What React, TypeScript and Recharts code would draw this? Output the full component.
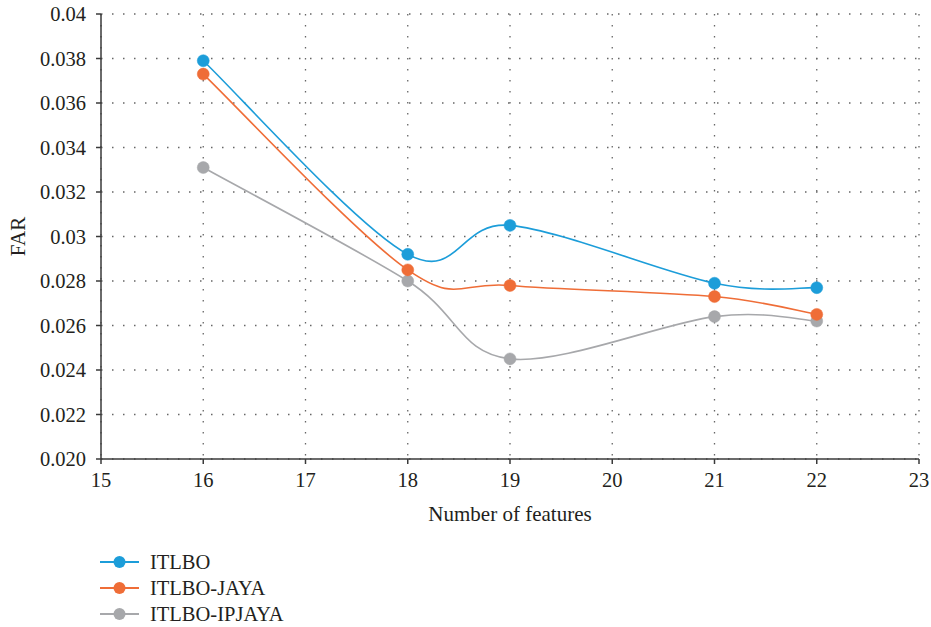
import React from 'react';
import { LineChart, Line, XAxis, YAxis, CartesianGrid } from 'recharts';

const features = [16, 18, 19, 21, 22];
const itlbo = [0.0379, 0.0292, 0.0305, 0.0279, 0.0277];
const itlboJaya = [0.0373, 0.0285, 0.0278, 0.0273, 0.0265];
const itlboIpjaya = [0.0331, 0.028, 0.0245, 0.0264, 0.0262];
const xTicks = [15, 16, 17, 18, 19, 20, 21, 22, 23];
const yTicks = [0.02, 0.022, 0.024, 0.026, 0.028, 0.03, 0.032, 0.034, 0.036, 0.038, 0.04];

const series = [
  { key: 'ITLBO', name: 'ITLBO', color: '#1c9dd9', values: itlbo },
  { key: 'ITLBO-JAYA', name: 'ITLBO-JAYA', color: '#ef6d37', values: itlboJaya },
  { key: 'ITLBO-IPJAYA', name: 'ITLBO-IPJAYA', color: '#a7a8ab', values: itlboIpjaya },
];

const data = features.map((f, i) => {
  const row: any = { x: f };
  series.forEach((s) => {
    row[s.key] = s.values[i];
  });
  return row;
});

function smoothCurve(context: any) {
  let pts: number[][] = [];
  return {
    areaStart() {},
    areaEnd() {},
    lineStart() {
      pts = [];
    },
    point(x: number, y: number) {
      pts.push([+x, +y]);
    },
    lineEnd() {
      const n = pts.length;
      if (!n) return;
      context.moveTo(pts[0][0], pts[0][1]);
      for (let i = 0; i < n - 1; i++) {
        const p0 = pts[i - 1] || pts[i];
        const p1 = pts[i];
        const p2 = pts[i + 1];
        const p3 = pts[i + 2] || p2;
        context.bezierCurveTo(
          p1[0] + (p2[0] - p0[0]) / 6,
          p1[1] + (p2[1] - p0[1]) / 6,
          p2[0] - (p3[0] - p1[0]) / 6,
          p2[1] - (p3[1] - p1[1]) / 6,
          p2[0],
          p2[1]
        );
      }
    },
  };
}

const FONT = "'Liberation Serif', 'Times New Roman', serif";
const TEXT = '#231f20';
const AXIS = '#3a3a3a';
const FS = 20.5;

const fmtY = (v: number) => (Math.abs(v - 0.02) < 1e-9 ? '0.020' : String(Number(v.toFixed(3))));

const css = `
html, body { margin: 0; padding: 0; }
.far-chart, .far-chart svg text, .far-chart text, .far-chart tspan { font-family: ${FONT} !important; }
`;

export default function App() {
  return (
    <div
      className="far-chart"
      style={{
        position: 'relative',
        width: 931,
        height: 627,
        overflow: 'hidden',
        fontFamily: FONT,
      }}
    >
      <style>{css}</style>
      <LineChart
        width={931}
        height={627}
        data={data}
        margin={{ top: 14, right: 12, left: 0, bottom: 98 }}
      >
        <CartesianGrid stroke="#666" strokeWidth={1.3} strokeDasharray="1.5 9.5" />
        <XAxis
          dataKey="x"
          type="number"
          domain={[15, 23]}
          ticks={xTicks}
          interval={0}
          height={70}
          stroke={AXIS}
          strokeWidth={1.5}
          tickSize={5}
          tickMargin={8}
          tick={{ fill: TEXT, fontSize: FS }}
          label={{
            value: 'Number of features',
            position: 'insideBottom',
            offset: 8,
            style: { fill: TEXT, fontSize: 21 },
          }}
        />
        <YAxis
          type="number"
          domain={[0.02, 0.04]}
          ticks={yTicks}
          interval={0}
          width={101}
          stroke={AXIS}
          strokeWidth={1.5}
          tickSize={5}
          tickMargin={10}
          tickFormatter={fmtY}
          tick={{ fill: TEXT, fontSize: FS }}
          label={{
            value: 'FAR',
            angle: -90,
            position: 'insideLeft',
            offset: 18,
            style: { fill: TEXT, fontSize: 21, textAnchor: 'middle' },
          }}
        />
        {[...series].reverse().map((s) => (
          <Line
            key={s.key}
            dataKey={s.key}
            name={s.name}
            type={smoothCurve as any}
            stroke={s.color}
            strokeWidth={1.6}
            dot={{ r: 6, fill: s.color, stroke: s.color, strokeWidth: 0.5 }}
            activeDot={false}
            isAnimationActive={false}
          />
        ))}
      </LineChart>
      <div style={{ position: 'absolute', left: 100, top: 549, color: TEXT, fontSize: FS, lineHeight: '26px' }}>
        {series.map((s) => (
          <div key={s.key} style={{ display: 'flex', alignItems: 'center', height: 26 }}>
            <svg width={40} height={16} style={{ marginRight: 10 }}>
              <line x1={0} y1={8} x2={39} y2={8} stroke={s.color} strokeWidth={2} />
              <circle cx={19.5} cy={8} r={6} fill={s.color} />
            </svg>
            <span>{s.name}</span>
          </div>
        ))}
      </div>
    </div>
  );
}
